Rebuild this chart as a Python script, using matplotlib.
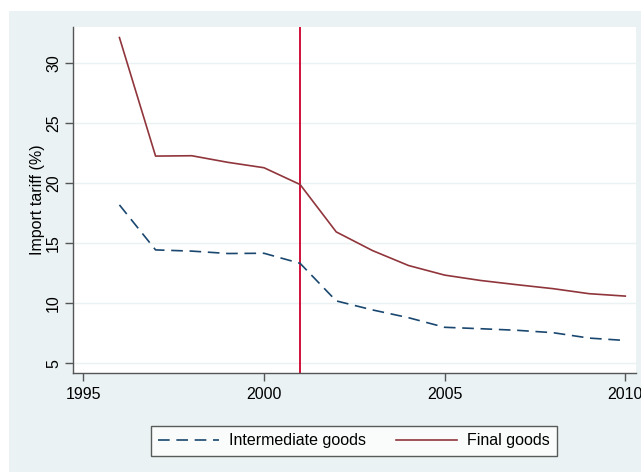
import matplotlib
matplotlib.use("Agg")
import matplotlib.pyplot as plt

years = [1996, 1997, 1998, 1999, 2000, 2001, 2002, 2003,
         2004, 2005, 2006, 2007, 2008, 2009, 2010]
intermediate = [18.2, 14.45, 14.35, 14.15, 14.17, 13.33, 10.2, 9.45,
                8.8, 8.0, 7.88, 7.75, 7.55, 7.1, 6.9]
final = [32.15, 22.27, 22.3, 21.75, 21.3, 19.9, 15.95, 14.4,
         13.15, 12.35, 11.9, 11.55, 11.22, 10.8, 10.6]
policy_year = 2001

bg = "#eaf2f3"
plt.rcParams["font.family"] = ["Liberation Sans", "DejaVu Sans"]

fig = plt.figure(figsize=(6.41, 4.72), dpi=100)
fig.patch.set_facecolor("white")

# outer graph region (light blue-grey), offset from the top-left corner
bg_ax = fig.add_axes([9 / 641, 0, 1 - 9 / 641, 1 - 11 / 472], zorder=0)
bg_ax.set_facecolor(bg)
bg_ax.set_xticks([])
bg_ax.set_yticks([])
for s in bg_ax.spines.values():
    s.set_visible(False)

ax = fig.add_axes([73 / 641, 1 - 373 / 472, (636 - 73) / 641, (373 - 27) / 472],
                  zorder=1)
ax.set_facecolor("white")

ax.plot(years, intermediate, color="#1a476f", lw=1.2, dashes=(7, 4),
        label="Intermediate goods", zorder=3)
ax.plot(years, final, color="#90353b", lw=1.2, label="Final goods", zorder=3)
ax.axvline(policy_year, color="#d0103a", lw=1.4, zorder=2)

ax.set_xlim(1994.715, 2010.296)
ax.set_ylim(4.19, 33.03)
ax.set_xticks([1995, 2000, 2005, 2010])
ax.set_yticks([5, 10, 15, 20, 25, 30])
ax.grid(axis="y", color=bg, lw=1.0, zorder=1)
ax.set_axisbelow(True)

for side in ("top", "right"):
    ax.spines[side].set_visible(False)
for side in ("left", "bottom"):
    ax.spines[side].set_color("#555555")
    ax.spines[side].set_linewidth(1.0)

ax.tick_params(axis="both", direction="out", length=6, width=1.0,
               color="#555555", labelsize=11.5)
ax.tick_params(axis="x", pad=4)
ax.tick_params(axis="y", pad=2.5)
for lab in ax.get_yticklabels():
    lab.set_rotation(90)
    lab.set_va("center")

ax.set_ylabel("Import tariff (%)", fontsize=11.5, labelpad=1)

leg = fig.legend(loc="center", bbox_to_anchor=(354 / 641, 1 - 441 / 472),
                 ncol=2, frameon=True, fancybox=False, fontsize=11.5,
                 handlelength=3.8, columnspacing=1.9, borderpad=0.45,
                 handletextpad=0.63)
leg.set_zorder(5)
leg.get_frame().set_edgecolor("#333333")
leg.get_frame().set_linewidth(1.0)
leg.get_frame().set_facecolor("white")

fig.savefig("out.png", dpi=100)
